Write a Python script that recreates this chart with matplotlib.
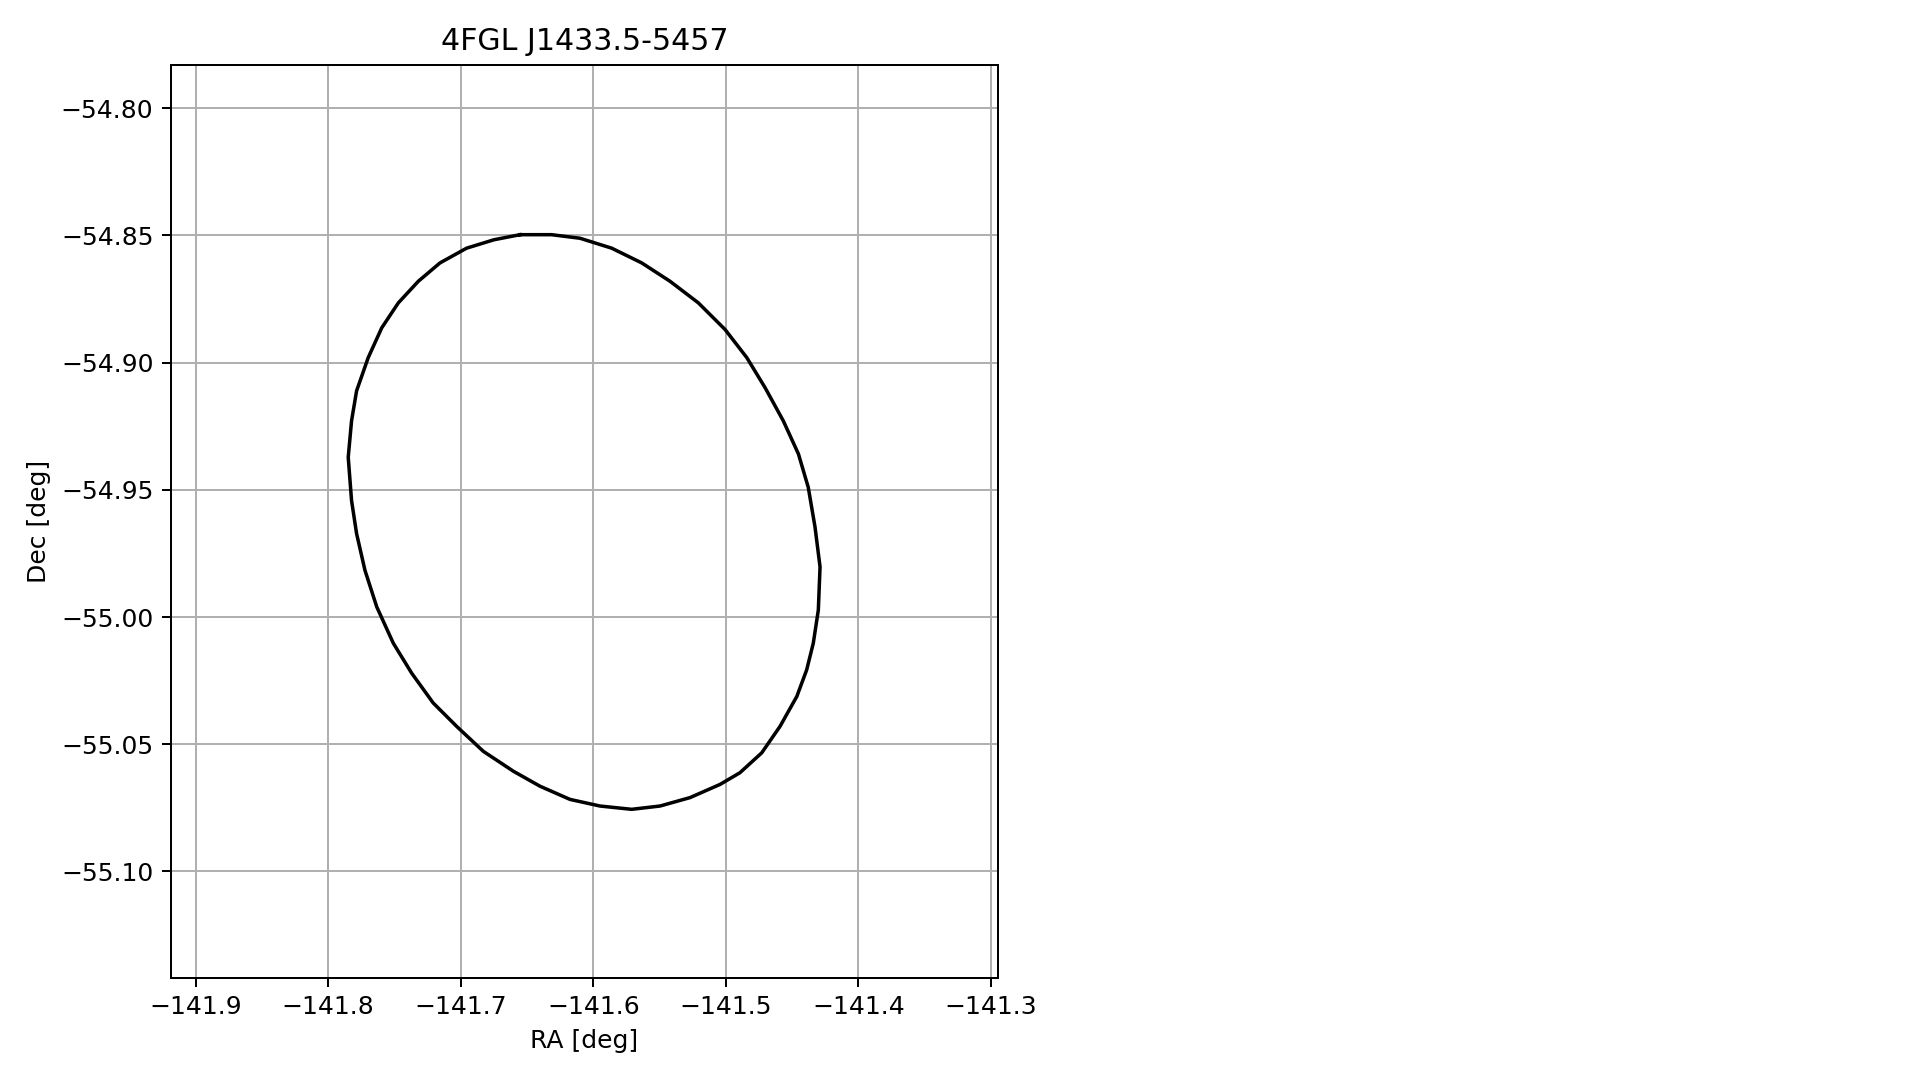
import matplotlib.pyplot as plt

# Source name and localisation contour
title = "4FGL J1433.5-5457"

ra = [-141.6553, -141.6315, -141.6101, -141.5862, -141.5635, -141.5422, -141.5208,
      -141.5006, -141.4843, -141.4705, -141.4567, -141.4453, -141.4379, -141.4328,
      -141.4290, -141.4303, -141.4341, -141.4391, -141.4465, -141.4592, -141.4730,
      -141.4894, -141.5044, -141.5271, -141.5497, -141.5711, -141.5950, -141.6176,
      -141.6403, -141.6604, -141.6830, -141.7031, -141.7208, -141.7370, -141.7509,
      -141.7634, -141.7723, -141.7786, -141.7824, -141.7849, -141.7824, -141.7786,
      -141.7698, -141.7596, -141.7471, -141.7320, -141.7157, -141.6956, -141.6750,
      -141.6553]
dec = [-54.8497, -54.8497, -54.8511, -54.8550, -54.8608, -54.8680, -54.8765,
       -54.8870, -54.8980, -54.9098, -54.9229, -54.9359, -54.9490, -54.9646,
       -54.9803, -54.9973, -55.0103, -55.0208, -55.0312, -55.0430, -55.0534,
       -55.0612, -55.0658, -55.0710, -55.0743, -55.0756, -55.0743, -55.0717,
       -55.0665, -55.0606, -55.0528, -55.0430, -55.0338, -55.0221, -55.0103,
       -54.9960, -54.9816, -54.9672, -54.9542, -54.9372, -54.9229, -54.9111,
       -54.8980, -54.8863, -54.8765, -54.8680, -54.8608, -54.8550, -54.8517,
       -54.8497]

xticks = [-141.9, -141.8, -141.7, -141.6, -141.5, -141.4, -141.3]
yticks = [-54.80, -54.85, -54.90, -54.95, -55.00, -55.05, -55.10]

dpi = 180
fig = plt.figure(figsize=(1919 / dpi, 1080 / dpi), dpi=dpi)
ax = fig.add_axes([0.0891, 0.0947, 0.4308, 0.8451])

ax.plot(ra, dec, color="k", lw=1.4)

ax.set_xlim(-141.9186, -141.295)
ax.set_ylim(-55.1418, -54.7830)
ax.set_xticks(xticks)
ax.set_yticks(yticks)
ax.set_yticklabels([f"{t:.2f}".replace("-", "\u2212") for t in yticks])
ax.grid(True)

ax.set_title(title)
ax.set_xlabel("RA [deg]")
ax.set_ylabel("Dec [deg]")

fig.savefig("out.png", dpi=dpi)
